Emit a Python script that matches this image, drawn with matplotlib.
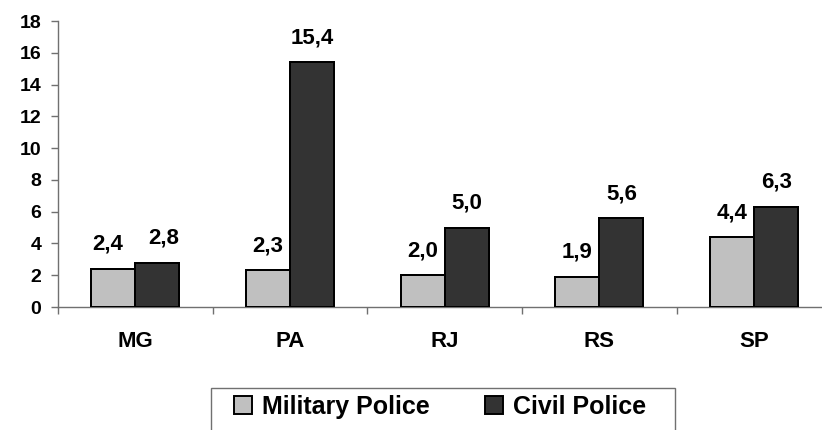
import matplotlib
matplotlib.use("Agg")
import matplotlib.pyplot as plt
from matplotlib.patches import Rectangle, Patch
import numpy as np

# Data
states = ["MG", "PA", "RJ", "RS", "SP"]
military_police = [2.4, 2.3, 2.0, 1.9, 4.4]
civil_police = [2.8, 15.4, 5.0, 5.6, 6.3]
value_labels_military = ["2,4", "2,3", "2,0", "1,9", "4,4"]
value_labels_civil = ["2,8", "15,4", "5,0", "5,6", "6,3"]
series_names = ["Military Police", "Civil Police"]
y_ticks = [0, 2, 4, 6, 8, 10, 12, 14, 16, 18]

plt.rcParams['font.family'] = ['Liberation Sans', 'DejaVu Sans']
plt.rcParams['font.weight'] = 'bold'

W, H = 822, 430
dpi = 100
fig = plt.figure(figsize=(W / dpi, H / dpi), dpi=dpi)
px = 72.0 / dpi  # points per pixel

# Axes placement in pixels
left_px, bottom_px, top_px = 58, 307, 21
cat_w = 154.7
ax = fig.add_axes([left_px / W, 1 - bottom_px / H,
                   5 * cat_w / W, (bottom_px - top_px) / H])

x = np.arange(len(states))
bw = 44 / cat_w
light = "#C0C0C0"
dark = "#333333"
edge_w = 2.0 * px
ax.bar(x - bw / 2, military_police, width=bw, color=light,
       edgecolor="black", linewidth=edge_w, zorder=3)
ax.bar(x + bw / 2, civil_police, width=bw, color=dark,
       edgecolor="black", linewidth=edge_w, zorder=3)

# Value labels
x_shift_mil = [-6, 0, 0, 0, 0]
x_shift_civ = [6, 0, 0, 0, 0]
for i in range(len(states)):
    ax.annotate(value_labels_military[i], (x[i] - bw / 2, military_police[i]),
                xytext=(x_shift_mil[i] * px, 19 * px), textcoords="offset points",
                ha="center", va="baseline", fontsize=16, fontweight="bold")
    ax.annotate(value_labels_civil[i], (x[i] + bw / 2, civil_police[i]),
                xytext=(x_shift_civ[i] * px, 19 * px), textcoords="offset points",
                ha="center", va="baseline", fontsize=16, fontweight="bold")

ax.set_xlim(-0.5, len(states) - 0.5)
ax.set_ylim(0, 18)
ax.set_yticks(y_ticks)
ax.set_yticklabels([str(t) for t in y_ticks], fontsize=14, fontweight="bold")

# Category ticks between groups, labels at group centres
ax.set_xticks(np.arange(-0.5, len(states), 1.0))
ax.set_xticklabels([])
ax.set_xticks(x, minor=True)
ax.set_xticklabels(states, minor=True, fontsize=16, fontweight="bold")
ax.tick_params(axis="x", which="major", direction="out", length=7 * px,
               width=1, color="#707070")
ax.tick_params(axis="x", which="minor", length=0, pad=17)
ax.tick_params(axis="y", direction="out", length=7 * px, width=1,
               color="#707070", pad=7)

for s in ["top", "right"]:
    ax.spines[s].set_visible(False)
for s in ["left", "bottom"]:
    ax.spines[s].set_color("#707070")
    ax.spines[s].set_linewidth(1)

# Legend
handles = [Patch(facecolor=light, edgecolor="black", linewidth=1.4),
           Patch(facecolor=dark, edgecolor="black", linewidth=1.4)]
leg = fig.legend(handles, series_names, loc="upper left",
                 bbox_to_anchor=(234 / W, 1 - 395 / H),
                 frameon=False, prop={"weight": "bold", "size": 18},
                 ncol=2, handlelength=0.72, handleheight=0.72,
                 handletextpad=0.4, columnspacing=2.2, borderpad=0,
                 borderaxespad=0)
fig.patches.append(Rectangle((211 / W, -0.05), (675 - 211) / W,
                             1 - 388 / H + 0.05, transform=fig.transFigure,
                             fill=False, edgecolor="#707070", linewidth=1))

fig.savefig("out.png", dpi=dpi)
